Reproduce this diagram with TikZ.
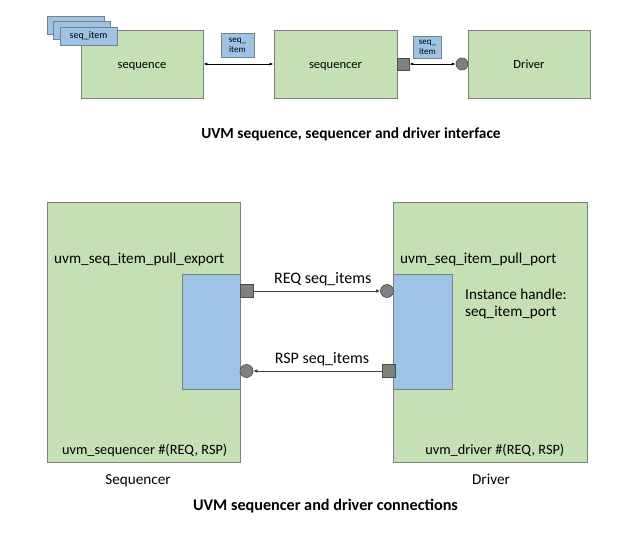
\documentclass[tikz,border=0pt]{standalone}
\usepackage{fontspec}
\setmainfont{Carlito}
\usetikzlibrary{arrows.meta}
\definecolor{boxgreen}{HTML}{C5E0B4}
\definecolor{boxblue}{HTML}{9DC3E6}
\definecolor{edgegray}{HTML}{7F7F7F}
\definecolor{portgray}{HTML}{808080}
\tikzset{
	box/.style={draw=edgegray,fill=boxgreen,line width=0.8pt,inner sep=0pt},
	topbox/.style={box,minimum height=68pt,text height=10pt,text depth=1.4pt,font=\fontsize{12.5}{15}\selectfont},
	item/.style={draw=edgegray,fill=boxblue,line width=0.8pt,inner sep=0pt,font=\fontsize{10}{11}\selectfont},
	port/.style={draw=black!70,fill=portgray,line width=0.6pt,minimum size=12pt,inner sep=0pt},
	sock/.style={circle,draw=black!70,fill=portgray,line width=0.6pt,minimum size=12pt,inner sep=0pt},
	lbl/.style={font=\fontsize{15.2}{18}\selectfont,inner sep=0pt,text=black},
	link/.style={line width=0.6pt,black!75,-{Latex[length=4pt,width=3.5pt]}},
}
\begin{document}
\begin{tikzpicture}[x=1pt,y=-1pt]
		\useasboundingbox (0,0) rectangle (625,556);

		% interface
		\node[item,minimum width=57pt,minimum height=18pt] (i3) at (76,25) {};
		\node[item,minimum width=57pt,minimum height=18pt] (i2) at (82,30.5) {};
		\node[topbox,minimum width=122pt] (seq) at (142,64) {sequence};
		\node[item,minimum width=57pt,minimum height=18pt] (i1) at (88.5,36) {seq\_item};
		\node[topbox,minimum width=123pt] (sqr) at (335.5,64) {sequencer};
		\node[topbox,minimum width=122pt] (drv) at (529,64) {Driver};
		\node[item,minimum width=33pt,minimum height=24pt,align=center,font=\fontsize{9}{10}\selectfont] (t1) at (237.5,45) {seq\_\\item};
		\node[item,minimum width=28pt,minimum height=22pt,align=center,font=\fontsize{9}{10}\selectfont] (t2) at (427.5,47) {seq\_\\item};
		\node[port] (p0) at (403,64) {};
		\node[sock] (s0) at (462,64) {};

		\draw[line width=0.8pt,{Latex[length=4pt]}-{Latex[length=4pt]}] (seq) -- (sqr);
		\draw[line width=0.8pt,{Latex[length=4pt]}-{Latex[length=4pt]}] (p0) -- (s0);

		\node[anchor=base,inner sep=0pt,font=\bfseries\fontsize{15.4}{18}\selectfont] (title1) at (351,139) {UVM sequence, sequencer and driver interface};

		% connections
		\node[box,minimum width=193pt,minimum height=260pt] (sqbox) at (143.5,332) {};
		\node[box,minimum width=194pt,minimum height=260pt] (drbox) at (490,332) {};
		\node[box,fill=boxblue,minimum width=58pt,minimum height=115pt] (exp) at (211,331.5) {};
		\node[box,fill=boxblue,minimum width=59pt,minimum height=115pt] (prt) at (422.5,331.5) {};

		\node[port,minimum size=13pt] (reqp) at (246.5,291) {};
		\node[sock,minimum size=13pt] (reqs) at (387,291) {};
		\node[port,minimum size=13pt] (rspp) at (388.5,371) {};
		\node[sock,minimum size=13pt] (rsps) at (246.5,371) {};

		\draw[link] (reqp) to node[lbl,anchor=base,xshift=6pt,yshift=7pt,font=\fontsize{16}{19}\selectfont]{REQ seq\_items} (reqs);
		\draw[link] (rspp) to node[lbl,anchor=base,xshift=4.5pt,yshift=7pt,font=\fontsize{16}{19}\selectfont]{RSP seq\_items} (rsps);

		\node[lbl,anchor=base west] (expname) at (54,264) {uvm\_seq\_item\_pull\_export};
		\node[lbl,anchor=base west] (prtname) at (400,264) {uvm\_seq\_item\_pull\_port};
		\node[lbl,anchor=base west] (handle) at (465,299.3) {Instance handle:};
		\node[lbl,anchor=base west] (handlename) at (465,316.7) {seq\_item\_port};
		\node[lbl,anchor=base east,font=\fontsize{14.3}{17}\selectfont] (sqclass) at (227.5,455) {uvm\_sequencer \#(REQ, RSP)};
		\node[lbl,anchor=base east,font=\fontsize{14.3}{17}\selectfont] (drclass) at (564.5,455) {uvm\_driver \#(REQ, RSP)};
		\node[lbl,anchor=base] (sqname) at (138,485) {Sequencer};
		\node[lbl,anchor=base] (drname) at (491,485) {Driver};

		\node[anchor=base,inner sep=0pt,font=\bfseries\fontsize{16.2}{19}\selectfont] (title2) at (325.5,510.7) {UVM sequencer and driver connections};
	\end{tikzpicture}
\end{document}
